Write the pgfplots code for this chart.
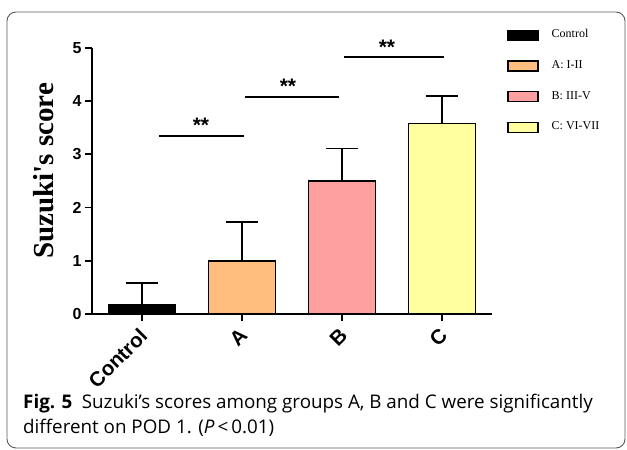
\documentclass[border=0pt]{standalone}
\usepackage{fontspec}
\setmainfont{Liberation Serif}
\newfontfamily\arial{Liberation Sans}
\newfontfamily\capfont{Open Sans}
\usepackage{pgfplots}
\pgfplotsset{compat=1.18}
\definecolor{cA}{RGB}{255,190,125}
\definecolor{cB}{RGB}{255,160,160}
\definecolor{cC}{RGB}{255,255,160}
\definecolor{frameg}{RGB}{90,90,90}
\begin{document}
\begin{tikzpicture}[x=1pt,y=1pt]
\path[use as bounding box] (0,0) rectangle (627,450);
\draw[frameg, line width=0.9pt, rounded corners=9pt] (7,2) rectangle (625,438);
\begin{axis}[
 at={(92pt,136pt)}, anchor=south west, scale only axis, width=400pt, height=266pt,
 xmin=-0.5, xmax=3.5, ymin=0, ymax=5,
 axis lines*=left,
 axis line style={line width=1.8pt},
 xtick={0,1,2,3}, xticklabels={Control,A,B,C},
 ytick={0,1,2,3,4,5},
 tick align=outside, major tick length=7pt,
 tick style={line width=1.8pt, black},
 x tick label style={xshift=4pt, yshift=-9pt, rotate=45, anchor=east, font=\fontsize{20.5}{23}\selectfont\arial\bfseries},
 y tick label style={font=\fontsize{16}{18}\selectfont\arial\bfseries},
 /pgf/number format/assume math mode=true,
 ylabel={Suzuki\textquotesingle s score},
 ylabel style={at={(axis description cs:-0.12,0.5376)}, anchor=center, font=\fontsize{29}{32}\selectfont\bfseries},
 clip=false,
 ybar, bar width=67pt, bar shift=0pt,
 legend style={draw=none, fill=none, at={(1.0375,1.0695)}, anchor=north west, inner sep=0pt,
   row sep=19.1pt, font=\fontsize{12}{14}\selectfont,
   nodes={inner sep=0pt, text height=8pt, text depth=3pt},
   /tikz/every odd column/.append style={column sep=13pt}},
 legend cell align=left,
 legend image code/.code={\draw[#1, line width=1.5pt] (0pt,-5pt) rectangle (30pt,5pt);},
 mybar/.style={draw=black, line width=1.5pt,
   /pgfplots/error bars/y dir=plus, /pgfplots/error bars/y explicit,
   /pgfplots/error bars/error bar style={line width=1.8pt, black},
   /pgfplots/error bars/error mark options={rotate=90, line width=1.8pt, black, mark size=16pt}},
]
\addplot[mybar, fill=black] coordinates {(0,0.18) +- (0,0.40)};
\addlegendentry{Control}
\addplot[mybar, fill=cA] coordinates {(1,1.0) +- (0,0.73)};
\addlegendentry{A: I-II}
\addplot[mybar, fill=cB] coordinates {(2,2.5) +- (0,0.61)};
\addlegendentry{B: III-V}
\addplot[mybar, fill=cC] coordinates {(3,3.58) +- (0,0.52)};
\addlegendentry{C: VI-VII}
\addplot[sharp plot, black, line width=1.8pt, forget plot] coordinates {(0.17,3.346) (1.02,3.346)};
\addplot[sharp plot, black, line width=1.8pt, forget plot] coordinates {(1.03,4.08) (1.97,4.08)};
\addplot[sharp plot, black, line width=1.8pt, forget plot] coordinates {(2.02,4.825) (3.02,4.825)};
\node[anchor=base, inner sep=0pt, yshift=3pt, font=\fontsize{21}{21}\selectfont\arial\bfseries] at (axis cs:0.59,3.346) {**};
\node[anchor=base, inner sep=0pt, yshift=3pt, font=\fontsize{21}{21}\selectfont\arial\bfseries] at (axis cs:1.46,4.08) {**};
\node[anchor=base, inner sep=0pt, yshift=3pt, font=\fontsize{21}{21}\selectfont\arial\bfseries] at (axis cs:2.45,4.825) {**};
\end{axis}
\node[anchor=base west, inner sep=0pt, font=\fontsize{18.8}{22}\selectfont\capfont] at (23,41) {\textbf{Fig. 5}\hspace{0.5em}Suzuki’s scores among groups A, B and C were significantly};
\node[anchor=base west, inner sep=0pt, font=\fontsize{18.8}{22}\selectfont\capfont] at (23,16) {different on POD 1. (\textit{P}\,<\,0.01)};
\end{tikzpicture}
\end{document}
